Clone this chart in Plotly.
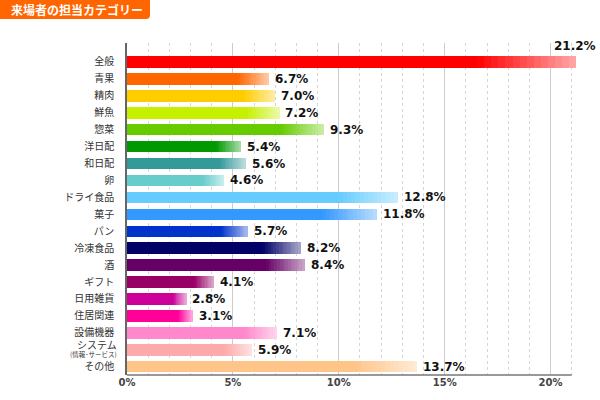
import plotly.graph_objects as go

# ---- data ----
categories = ["全般", "青果", "精肉", "鮮魚", "惣菜", "洋日配", "和日配", "卵", "ドライ食品", "菓子",
              "パン", "冷凍食品", "酒", "ギフト", "日用雑貨", "住居関連", "設備機器",
              "システム", "その他"]
sub_labels = {"システム": "(情報･サービス)"}
values = [21.2, 6.7, 7.0, 7.2, 9.3, 5.4, 5.6, 4.6, 12.8, 11.8, 5.7, 8.2, 8.4, 4.1, 2.8, 3.1, 7.1, 5.9, 13.7]
colors = ["#ff0000", "#ff6600", "#ffcc00", "#c6f000", "#66cc00", "#009900", "#339999", "#66cccc",
          "#66ccff", "#3399ff", "#0033cc", "#000066", "#660066", "#990066", "#cc0099", "#ff0099",
          "#ff88cc", "#ffaaaa", "#ffc488"]
title_text = "来場者の担当カテゴリー"
x_ticks = [0, 5, 10, 15, 20]

# ---- helpers ----
def hex2rgb(h):
    h = h.lstrip("#")
    return tuple(int(h[i:i + 2], 16) for i in (0, 2, 4))

def mix(h, t):
    r, g, b = hex2rgb(h)
    return "rgb(%d,%d,%d)" % (round(r + (255 - r) * t), round(g + (255 - g) * t), round(b + (255 - b) * t))

W, H = 600, 400
ML, MR, MT, MB = 127, 24, 43, 25
PW, PH = W - ML - MR, H - MT - MB

def px2x(px):
    return (px - ML) / PW

def py2y(py):
    return (H - MB - py) / PH

fig = go.Figure()

bw = 0.68
start = 0.78
N = 14
fade = 0.66

# solid part
fig.add_trace(go.Bar(
    y=categories, x=[v * start for v in values], base=[0] * len(values),
    orientation="h", width=bw, marker=dict(color=colors, line=dict(width=0)),
    hoverinfo="skip", showlegend=False))

# gradient part
for k in range(N):
    t = (k + 0.5) / N
    seg_base = [v * (start + (1 - start) * k / N) for v in values]
    seg_len = [v * (1 - start) / N * 1.02 for v in values]
    fig.add_trace(go.Bar(
        y=categories, x=seg_len, base=seg_base, orientation="h", width=bw,
        marker=dict(color=[mix(c, fade * t) for c in colors], line=dict(width=0)),
        hoverinfo="skip", showlegend=False))

# value labels
for i, (c, v) in enumerate(zip(categories, values)):
    if i == 0:
        fig.add_annotation(x=v, y=c, text="<b>%.1f%%</b>" % v, showarrow=False,
                           xanchor="right", xshift=22, yshift=16,
                           font=dict(family="DejaVu Sans", size=12, color="#111"))
    else:
        fig.add_annotation(x=v, y=c, text="<b>%.1f%%</b>" % v, showarrow=False,
                           xanchor="left", xshift=4,
                           font=dict(family="DejaVu Sans", size=12, color="#111"))

# two-line category label
for c, sub in sub_labels.items():
    fig.add_annotation(xref="paper", x=px2x(118), y=c, xanchor="right", yanchor="middle",
                       text="<span style='font-size:10px'>%s</span><br>%s" % (c, sub),
                       showarrow=False, align="right", yshift=1.5, borderpad=0,
                       font=dict(family="Noto Sans CJK JP", size=6.5, color="#333"))

# bottom axis line up to 21
fig.add_shape(type="line", xref="x", yref="paper", x0=0, x1=21, y0=0, y1=0,
              line=dict(color="#777", width=1.5), layer="above")

# title box
x0, x1 = px2x(0), px2x(150)
y0, y1 = py2y(19), py2y(0)
rx, ry = 4 / PW, 4 / PH
path = (f"M {x0} {y0} L {x1 - rx} {y0} Q {x1} {y0} {x1} {y0 + ry} "
        f"L {x1} {y1} L {x0} {y1} Z")
fig.add_shape(type="path", xref="paper", yref="paper", path=path,
              fillcolor="#ff6600", line=dict(width=0))
fig.add_annotation(xref="paper", yref="paper", x=px2x(9), y=py2y(9.5), xanchor="left",
                   yanchor="middle", text="<b>%s</b>" % title_text, showarrow=False,
                   font=dict(family="Noto Sans CJK JP", size=12, color="white"))

fig.update_layout(
    width=W, height=H, margin=dict(l=ML, r=MR, t=MT, b=MB),
    paper_bgcolor="white", plot_bgcolor="white",
    barmode="overlay", bargap=0,
    font=dict(family="Noto Sans CJK JP", color="#333"),
    xaxis=dict(range=[0, 21.2], tickvals=x_ticks, ticktext=["<b>%d%%</b>" % t for t in x_ticks],
               showgrid=True, gridcolor="#cccccc", gridwidth=1,
               minor=dict(dtick=1, tick0=0, showgrid=True, gridcolor="#d6d6d6", griddash="dot"),
               showline=False, zeroline=False, ticks="",
               tickfont=dict(family="DejaVu Sans", size=10, color="#444"), fixedrange=True),
    yaxis=dict(categoryorder="array", categoryarray=categories, range=[18.49, -1.12],
               tickmode="array", tickvals=categories,
               ticktext=["" if c in sub_labels else c for c in categories],
               showline=True, linecolor="#666", linewidth=1.5, showgrid=False, zeroline=False,
               ticks="", ticklabelstandoff=9,
               tickfont=dict(family="Noto Sans CJK JP", size=10, color="#333"), fixedrange=True),
)

fig.write_html("out.html")
